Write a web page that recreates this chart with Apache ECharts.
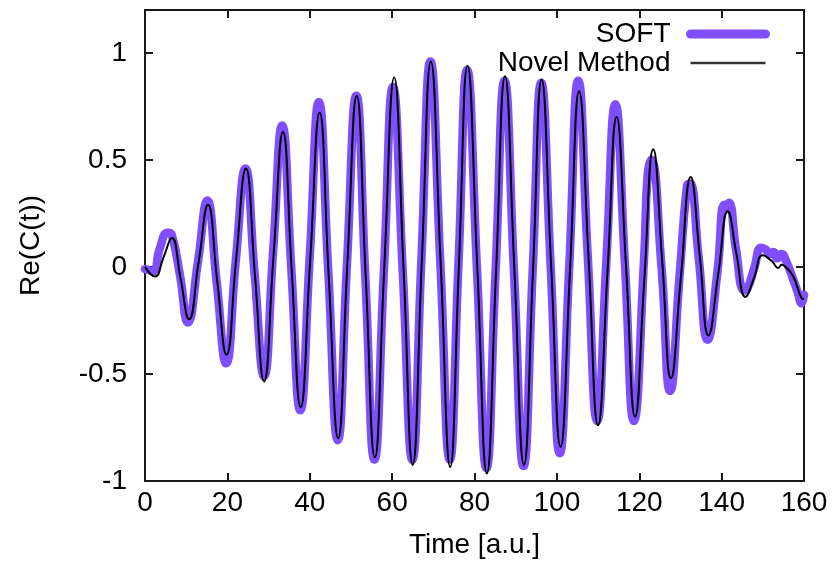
<!DOCTYPE html>
<html>
<head>
<meta charset="utf-8">
<script src="https://cdn.jsdelivr.net/npm/echarts@6/dist/echarts.min.js"></script>
<style>
html,body{margin:0;padding:0;background:#fff;}
#chart{width:835px;height:567px;}
</style>
</head>
<body>
<div id="chart"></div>
<script>
// ---- data ----
var seriesNames = ['SOFT', 'Novel Method'];
var xTicks = [0, 20, 40, 60, 80, 100, 120, 140, 160];
var yTicks = [-1, -0.5, 0, 0.5, 1];

var softTime = [0, 2.0, 3.5, 5.5, 6.5, 8.5, 10.4, 12.9, 15.1, 17.4, 19.7, 22.0, 24.4, 26.6, 28.9, 31.1, 33.3, 35.5, 37.7, 40.0,
  42.2, 44.5, 46.8, 49.0, 51.3, 53.5, 55.7, 58.0, 60.2, 62.6, 64.9, 67.1, 69.3, 71.7, 74.0, 76.1, 78.2, 80.6, 82.9, 85.1,
  87.3, 89.6, 91.9, 94.1, 96.2, 98.5, 100.7, 103.0, 105.2, 107.5, 109.8, 112.0, 114.2, 116.5, 118.7, 121.2, 122.0, 122.9, 125.4, 127.5,
  129.8, 131.6, 132.3, 134.4, 136.6, 139.0, 140.6, 141.2, 141.8, 143.5, 145.5, 146.3, 148.0, 149.6, 150.8, 151.6, 152.6, 153.5, 154.5, 155.8,
  157.4, 158.5, 159.4, 160];
var softValues = [-0.01, -0.02, 0.08, 0.16, 0.15, -0.04, -0.26, 0.03, 0.31, -0.07, -0.45, 0.02, 0.46, -0.03, -0.51, 0.07, 0.66, 0.0, -0.67, 0.05,
  0.77, -0.02, -0.81, 0.0, 0.80, -0.05, -0.90, -0.02, 0.84, -0.03, -0.90, 0.03, 0.96, 0.02, -0.90, 0.01, 0.92, -0.01, -0.94, -0.03,
  0.87, -0.03, -0.93, -0.03, 0.86, 0.0, -0.87, 0.0, 0.87, 0.05, -0.72, 0.02, 0.76, 0.02, -0.72, 0.05, 0.42, 0.50, 0.0, -0.58,
  -0.04, 0.38, 0.39, 0.05, -0.34, -0.02, 0.29, 0.27, 0.30, 0.08, -0.11, -0.10, 0.0, 0.09, 0.08, 0.06, 0.07, 0.04, 0.06, 0.02,
  -0.06, -0.12, -0.17, -0.13];

var novelTime = [0, 2.4, 4.5, 6.5, 8.6, 10.7, 13.0, 15.3, 17.5, 19.8, 22.1, 24.5, 26.7, 28.9, 31.2, 33.5, 35.6, 37.8, 40.1, 42.4,
  44.6, 46.9, 49.1, 51.4, 53.6, 55.8, 58.1, 60.5, 62.8, 65.0, 67.2, 69.4, 71.8, 74.1, 76.2, 78.3, 80.7, 83.0, 85.2, 87.4,
  89.7, 92.0, 94.2, 96.3, 98.6, 100.9, 103.2, 105.4, 107.7, 110.0, 112.3, 114.5, 116.8, 119.0, 121.2, 123.4, 125.6, 127.7, 130.1, 132.5,
  134.7, 136.8, 139.2, 141.5, 143.6, 145.8, 147.9, 150.0, 152.3, 153.7, 154.6, 155.8, 157.4, 159.4, 160];
var novelValues = [0, -0.045, 0.045, 0.135, -0.05, -0.245, 0.02, 0.29, -0.06, -0.41, 0.03, 0.46, -0.04, -0.535, 0.05, 0.63, -0.01, -0.655, 0.03, 0.72,
  -0.04, -0.80, 0.0, 0.80, -0.05, -0.89, 0.0, 0.885, -0.02, -0.925, 0.02, 0.96, 0.01, -0.935, 0.0, 0.94, -0.01, -0.965, -0.04, 0.89,
  -0.02, -0.925, -0.02, 0.875, 0.01, -0.84, -0.01, 0.82, 0.04, -0.74, -0.02, 0.70, 0.0, -0.70, -0.07, 0.55, 0.02, -0.52, -0.05, 0.42,
  0.05, -0.32, -0.03, 0.26, 0.06, -0.14, -0.05, 0.055, 0.025, -0.005, 0.01, -0.005, -0.045, -0.145, -0.15];

function zip(t, v) { var out = []; for (var i = 0; i < t.length; i++) out.push([t[i], v[i]]); return out; }

var FONT = "'Liberation Sans', Arial, Helvetica, sans-serif";
var AX = '#1a1a1a';
var softColor = '#7f4fff';

var chart = echarts.init(document.getElementById('chart'), null, {renderer: 'canvas'});

function xAx(pos, labels) {
  return {
    type: 'value', min: xTicks[0], max: xTicks[xTicks.length - 1], interval: 20, position: pos,
    axisLine: {show: true, onZero: false, lineStyle: {color: AX, width: 2}},
    axisTick: {show: true, inside: true, length: 8, lineStyle: {color: AX, width: 2}},
    axisLabel: {show: labels, fontSize: 28, color: '#000', fontFamily: FONT, margin: 8},
    splitLine: {show: false},
    name: labels ? 'Time [a.u.]' : '', nameLocation: 'middle', nameGap: 50,
    nameTextStyle: {fontSize: 28, color: '#000', fontFamily: FONT}
  };
}
function yAx(pos, labels) {
  return {
    type: 'value', min: yTicks[0], max: 1.2, interval: 0.5, position: pos,
    axisLine: {show: true, onZero: false, lineStyle: {color: AX, width: 2}},
    axisTick: {show: true, inside: true, length: 8, lineStyle: {color: AX, width: 2}},
    axisLabel: {show: labels, showMaxLabel: false, fontSize: 28, color: '#000', fontFamily: FONT, margin: 18,
      formatter: function (v) { return yTicks.indexOf(v) >= 0 ? String(v) : ''; }},
    splitLine: {show: false},
    name: labels ? 'Re(C(t))' : '', nameLocation: 'middle', nameGap: 100, nameRotate: 90,
    nameTextStyle: {fontSize: 28, color: '#000', fontFamily: FONT}
  };
}

chart.setOption({
  animation: false,
  backgroundColor: '#ffffff',
  grid: {left: 145, right: 31, top: 10, bottom: 86, containLabel: false},
  xAxis: [xAx('bottom', true), xAx('top', false)],
  yAxis: [yAx('left', true), yAx('right', false)],
  legend: {
    orient: 'vertical', right: 60, top: 15, align: 'right',
    itemWidth: 75, itemHeight: 20, itemGap: 1,
    textStyle: {fontSize: 28, color: '#000', fontFamily: FONT, lineHeight: 22, padding: [0, 15, 0, 0]},
    data: [
      {name: seriesNames[0], lineStyle: {width: 9, color: softColor}, itemStyle: {opacity: 0}},
      {name: seriesNames[1], lineStyle: {width: 2.5, color: '#333'}, itemStyle: {opacity: 0}}
    ]
  },
  series: [
    {
      name: seriesNames[0], type: 'line', xAxisIndex: 0, yAxisIndex: 0,
      data: zip(softTime, softValues), smooth: 0.5, symbol: 'none',
      lineStyle: {color: softColor, width: 8.5, cap: 'round', join: 'round'},
      itemStyle: {color: softColor}, z: 2
    },
    {
      name: seriesNames[1], type: 'line', xAxisIndex: 0, yAxisIndex: 0,
      data: zip(novelTime, novelValues), smooth: 0.5, symbol: 'none',
      lineStyle: {color: '#000', width: 2}, itemStyle: {color: '#000'}, z: 3
    }
  ]
});
</script>
</body>
</html>
